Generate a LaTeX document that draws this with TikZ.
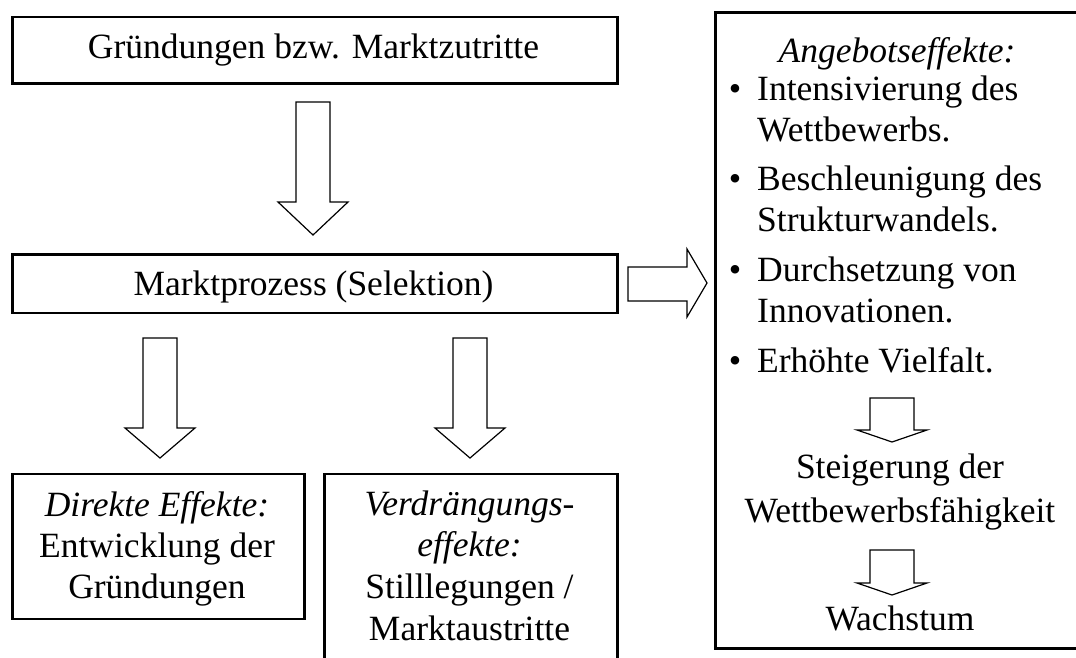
\documentclass[tikz,border=0pt]{standalone}
\usepackage{fontspec}
\setmainfont{Liberation Serif}
\begin{document}
\begin{tikzpicture}[x=1pt,y=-1pt,
  font=\fontsize{35.5}{41}\selectfont,
  box/.style={draw, line width=2.6pt, inner sep=0pt, anchor=north west},
  blockarrow/.style={draw, line width=1.2pt, line join=miter, fill=white},
  txt/.style={anchor=base, inner sep=0pt},
  ltxt/.style={anchor=base west, inner sep=0pt},
]
\useasboundingbox (0,0) rectangle (1076,657);

% boxes
\node[box, minimum width=605pt, minimum height=66.5pt] (gruend) at (11,15.5) {};
\node[box, minimum width=605pt, minimum height=58.5pt] (markt) at (11,253.3) {};
\node[box, minimum width=292pt, minimum height=145pt] (direkt) at (11,472.5) {};
\node[box, minimum width=293pt, minimum height=200pt] (verdr) at (323,472.5) {};
\node[box, minimum width=372pt, minimum height=636pt] (angebot) at (714,11) {};

% texts
\node[txt] (t1) at (313.5,58) {Gründungen bzw. Marktzutritte};
\node[txt] (t2) at (313.5,295) {Marktprozess (Selektion)};

\node[txt] (d1) at (157,516) {\itshape Direkte Effekte:};
\node[txt] (d2) at (157,557) {Entwicklung der};
\node[txt] (d3) at (157,598) {Gründungen};

\node[txt] (v1) at (469.5,515) {\itshape Verdrängungs-};
\node[txt] (v2) at (469.5,556) {\itshape effekte:};
\node[txt] (v3) at (469.5,598) {Stilllegungen /};
\node[txt] (v4) at (469.5,640) {Marktaustritte};

\node[txt] (a0) at (897,62) {\itshape Angebotseffekte:};
\node[txt] (b1) at (735,100) {•};
\node[ltxt] (a1) at (757,100) {Intensivierung des};
\node[ltxt] (a2) at (757,141) {Wettbewerbs.};
\node[txt] (b2) at (735,190) {•};
\node[ltxt] (a3) at (757,190) {Beschleunigung des};
\node[ltxt] (a4) at (757,231) {Strukturwandels.};
\node[txt] (b3) at (735,281) {•};
\node[ltxt] (a5) at (757,281) {Durchsetzung von};
\node[ltxt] (a6) at (757,322) {Innovationen.};
\node[txt] (b4) at (735,372) {•};
\node[ltxt] (a7) at (757,372) {Erhöhte Vielfalt.};
\node[txt] (s1) at (900,478) {Steigerung der};
\node[txt] (s2) at (900,522) {Wettbewerbsfähigkeit};
\node[txt] (w1) at (900,630) {Wachstum};

% block arrows
\draw[blockarrow] (296,102) -- (330,102) -- (330,202) -- (348,202) -- (313,235) -- (278,202) -- (296,202) -- cycle;
\draw[blockarrow] (143,338) -- (177,338) -- (177,428) -- (195,428) -- (160,458) -- (125,428) -- (143,428) -- cycle;
\draw[blockarrow] (453,338) -- (487,338) -- (487,428) -- (505,428) -- (470,458) -- (435,428) -- (453,428) -- cycle;
\draw[blockarrow] (628,267) -- (687,267) -- (687,249) -- (707,283) -- (687,317) -- (687,301) -- (628,301) -- cycle;
\draw[blockarrow] (870,398) -- (914,398) -- (914,430) -- (927,430) -- (892,442) -- (857,430) -- (870,430) -- cycle;
\draw[blockarrow] (870,550) -- (914,550) -- (914,583) -- (927,583) -- (892,595) -- (857,583) -- (870,583) -- cycle;
\end{tikzpicture}
\end{document}
